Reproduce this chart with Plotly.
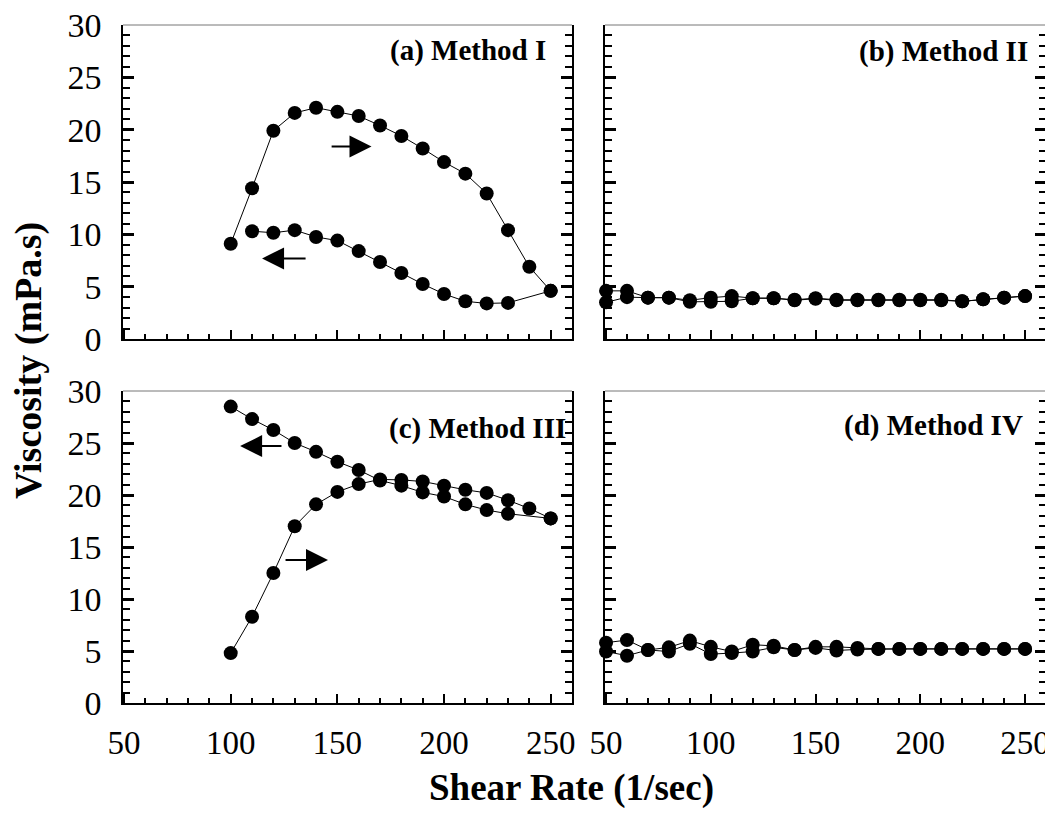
import plotly.graph_objects as go

# ---------------- data ----------------
a_up_x = [100, 110, 120, 130, 140, 150, 160, 170, 180, 190, 200, 210, 220, 230, 240, 250]
a_up_y = [9.1, 14.4, 19.9, 21.6, 22.1, 21.7, 21.3, 20.4, 19.4, 18.2, 16.9, 15.8, 13.9, 10.4, 6.9, 4.6]
a_dn_x = [250, 230, 220, 210, 200, 190, 180, 170, 160, 150, 140, 130, 120, 110]
a_dn_y = [4.6, 3.45, 3.4, 3.6, 4.3, 5.25, 6.3, 7.35, 8.4, 9.4, 9.75, 10.4, 10.15, 10.3]

b_up_x = [50, 60, 70, 80, 90, 100, 110, 120, 130, 140, 150, 160, 170, 180, 190, 200, 210, 220, 230, 240, 250]
b_up_y = [3.5, 4.0, 3.95, 3.95, 3.55, 3.55, 3.6, 3.9, 3.9, 3.7, 3.85, 3.7, 3.7, 3.7, 3.7, 3.7, 3.7, 3.6, 3.8, 3.95, 4.1]
b_dn_x = [250, 240, 230, 220, 210, 200, 190, 180, 170, 160, 150, 140, 130, 120, 110, 100, 90, 80, 70, 60, 50]
b_dn_y = [4.1, 3.95, 3.8, 3.6, 3.75, 3.75, 3.75, 3.75, 3.75, 3.75, 3.9, 3.75, 3.9, 3.9, 4.1, 3.95, 3.7, 3.95, 3.95, 4.6, 4.6]

c_up_x = [100, 110, 120, 130, 140, 150, 160, 170, 180, 190, 200, 210, 220, 230, 240, 250]
c_up_y = [4.8, 8.3, 12.5, 17.0, 19.1, 20.3, 21.05, 21.5, 21.45, 21.3, 20.9, 20.5, 20.2, 19.5, 18.7, 17.75]
c_dn_x = [250, 230, 220, 210, 200, 190, 180, 170, 160, 150, 140, 130, 120, 110, 100]
c_dn_y = [17.75, 18.2, 18.55, 19.1, 19.85, 20.25, 20.9, 21.4, 22.4, 23.2, 24.15, 25.0, 26.25, 27.3, 28.5]

d_up_x = [50, 60, 70, 80, 90, 100, 110, 120, 130, 140, 150, 160, 170, 180, 190, 200, 210, 220, 230, 240, 250]
d_up_y = [4.95, 4.55, 5.1, 4.95, 5.7, 4.7, 4.8, 4.95, 5.35, 5.1, 5.3, 5.05, 5.15, 5.2, 5.2, 5.2, 5.2, 5.2, 5.2, 5.2, 5.2]
d_dn_x = [250, 240, 230, 220, 210, 200, 190, 180, 170, 160, 150, 140, 130, 120, 110, 100, 90, 80, 70, 60, 50]
d_dn_y = [5.2, 5.2, 5.2, 5.2, 5.2, 5.2, 5.2, 5.2, 5.3, 5.4, 5.4, 5.1, 5.5, 5.6, 4.95, 5.4, 6.0, 5.35, 5.1, 6.05, 5.8]

panel_labels = ["(a) Method I", "(b) Method II", "(c) Method III", "(d) Method IV"]
x_title = "Shear Rate (1/sec)"
y_title = "Viscosity (mPa.s)"

FONT = "Liberation Serif"
OFF = 8  # default page body margin
W, H = 1053 - OFF, 816 - 2 * OFF

fig = go.Figure()

series = [
    ("x", "y", a_up_x, a_up_y), ("x", "y", a_dn_x, a_dn_y),
    ("x2", "y2", b_up_x, b_up_y), ("x2", "y2", b_dn_x, b_dn_y),
    ("x3", "y3", c_up_x, c_up_y), ("x3", "y3", c_dn_x, c_dn_y),
    ("x4", "y4", d_up_x, d_up_y), ("x4", "y4", d_dn_x, d_dn_y),
]
for xa, ya, xs, ys in series:
    fig.add_trace(go.Scatter(
        x=xs, y=ys, xaxis=xa, yaxis=ya, mode="lines+markers",
        line=dict(color="black", width=1),
        marker=dict(symbol="circle", size=14, color="black"),
        showlegend=False, cliponaxis=False,
    ))

def px_x(p):
    return min(1.0, (p - OFF) / W)

def px_y(p):
    return max(0.0, 1 - (p - OFF) / H)

left_dom = [px_x(123), px_x(572)]
right_dom = [px_x(605), px_x(1046)]
top_dom = [px_y(339), px_y(25)]
bot_dom = [px_y(703), px_y(391)]

def xaxis(domain, anchor, labels):
    return dict(
        domain=domain, anchor=anchor, range=[49.5, 260], automargin=False,
        tick0=50, dtick=50, ticks="inside", ticklen=9, tickwidth=2, tickcolor="black",
        minor=dict(dtick=10, ticks="inside", ticklen=5, tickwidth=2, tickcolor="black"),
        showline=True, linecolor="black", linewidth=1.5, mirror=False,
        showgrid=False, zeroline=False, showticklabels=labels,
        tickfont=dict(family=FONT, size=33, color="black"),
        ticklabelstandoff=10, ticklabeloverflow="allow",
    )

def yaxis(domain, anchor, labels):
    return dict(
        domain=domain, anchor=anchor, range=[0, 30], automargin=False,
        tick0=0, dtick=5, ticks="inside", ticklen=11, tickwidth=2.5, tickcolor="black",
        minor=dict(dtick=1, ticks="inside", ticklen=7, tickwidth=2, tickcolor="black"),
        showline=True, linecolor="black", linewidth=1.5, mirror="ticks",
        showgrid=False, zeroline=False, showticklabels=labels,
        tickfont=dict(family=FONT, size=34, color="black"),
        ticklabelstandoff=13, ticklabeloverflow="allow",
    )

fig.update_layout(
    width=W, height=H,
    margin=dict(l=0, r=0, t=0, b=0, autoexpand=False),
    paper_bgcolor="white", plot_bgcolor="white",
    xaxis=xaxis(left_dom, "y", False), yaxis=yaxis(top_dom, "x", True),
    xaxis2=xaxis(right_dom, "y2", False), yaxis2=yaxis(top_dom, "x2", False),
    xaxis3=xaxis(left_dom, "y3", True), yaxis3=yaxis(bot_dom, "x3", True),
    xaxis4=xaxis(right_dom, "y4", True), yaxis4=yaxis(bot_dom, "x4", False),
    font=dict(family=FONT, color="black"),
)

# top border lines (light gray, thin)
for xr, yr in [("x", "y"), ("x2", "y2"), ("x3", "y3"), ("x4", "y4")]:
    fig.add_shape(type="line", xref=f"{xr} domain", yref=f"{yr} domain",
                  x0=0, x1=1, y0=1, y1=1, line=dict(color="#777777", width=1))

# panel labels
label_pos = [("x", "y", 0.947, 0.92), ("x2", "y2", 0.964, 0.915),
             ("x3", "y3", 0.99, 0.88), ("x4", "y4", 0.952, 0.89)]
for (xr, yr, lx, ly), txt in zip(label_pos, panel_labels):
    fig.add_annotation(xref=f"{xr} domain", yref=f"{yr} domain", x=lx, y=ly,
                       text=f"<b>{txt}</b>", showarrow=False, xanchor="right", yanchor="middle",
                       font=dict(family=FONT, size=29, color="black"))

# arrows (head at x,y ; tail at ax,ay)
arrows = [
    ("x", "y", 166, 18.4, 146.6, 18.4),
    ("x", "y", 114.7, 7.7, 135.8, 7.7),
    ("x3", "y3", 104.4, 24.7, 124.5, 24.7),
    ("x3", "y3", 145.6, 13.75, 125, 13.75),
]
for xr, yr, hx, hy, tx, ty in arrows:
    fig.add_annotation(xref=xr, yref=yr, axref=xr, ayref=yr, x=hx, y=hy, ax=tx, ay=ty,
                       text="", showarrow=True, arrowhead=2, arrowsize=2.2, arrowwidth=2,
                       arrowcolor="black")

# axis titles
fig.add_annotation(xref="paper", yref="paper", x=px_x(571), y=0, yshift=-3,
                   text=f"<b>{x_title}</b>", showarrow=False, xanchor="center", yanchor="bottom",
                   font=dict(family=FONT, size=37, color="black"))
fig.add_annotation(xref="paper", yref="paper", x=px_x(29), y=px_y(361),
                   text=f"<b>{y_title}</b>", showarrow=False, textangle=-90,
                   xanchor="center", yanchor="middle",
                   font=dict(family=FONT, size=38, color="black"))

fig.write_html("out.html")
